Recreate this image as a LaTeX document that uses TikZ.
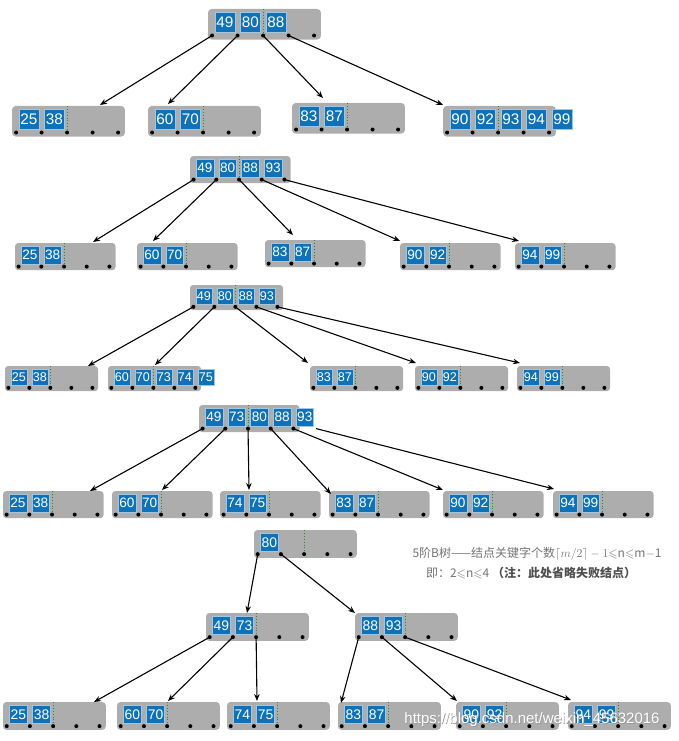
\documentclass[tikz,border=0pt]{standalone}
\usepackage{amssymb}
\usepackage{fontspec}
\setmainfont{Liberation Sans}
\newfontfamily\cjk{Noto Sans CJK SC}
\usetikzlibrary{arrows.meta}
\definecolor{keyblue}{RGB}{14,114,186}
\definecolor{boxgray}{RGB}{173,173,173}
\definecolor{splitgreen}{RGB}{40,140,40}
\definecolor{notegray}{RGB}{115,115,115}
\definecolor{notedark}{RGB}{80,80,80}
\tikzset{
    keybox/.style={fill=keyblue, draw=white!60!keyblue, line width=0.3pt, text=white, inner sep=0pt},
    ptr/.style={-{Stealth[length=7pt,width=5.5pt]}, line width=1.1pt},
}
\newcommand{\btnode}[5]{%
    \begin{scope}[shift={(#2,#3)}, x=#4pt, y=-#4pt]
        \pgfmathsetmacro\kb{0.78*#4}
        \pgfmathsetmacro\fs{0.6*#4}
        \pgfmathsetmacro\rc{0.15*#4}
        \fill[boxgray, rounded corners=\rc pt] (0,0) rectangle (4.43,1.2);
        \draw[splitgreen, dotted, line width=0.9pt] (2.16,0) -- (2.16,1.04);
        \foreach \k [count=\i from 0] in {#5}
            \node[keybox, minimum size=\kb pt, font=\fontsize{\fs}{\fs}\selectfont] (#1-k\i) at (0.66+\i,0.53) {\k};
        \foreach \i in {0,...,4} {
            \coordinate (#1-p\i) at (0.16+\i,1.04);
            \fill (#1-p\i) circle (2pt);
        }
        \coordinate (#1-p5) at (5.16,1.04);
    \end{scope}}
\begin{document}
\begin{tikzpicture}[x=1pt, y=-1pt]
    \useasboundingbox (0,0) rectangle (678,741);

    \btnode{a}{208}{9}{25.5}{49,80,88}
    \btnode{a1}{12}{106}{25.5}{25,38}
    \btnode{a2}{148}{106}{25.5}{60,70}
    \btnode{a3}{292}{103}{25.5}{83,87}
    \btnode{a4}{443}{106}{25.5}{90,92,93,94,99}
    \coordinate (ta1) at (100,105);
    \coordinate (ta2) at (168,104);
    \coordinate (ta3) at (323,98);
    \coordinate (ta4) at (443,105);
    \draw[ptr] (a-p0) -- (ta1);
    \draw[ptr] (a-p1) -- (ta2);
    \draw[ptr] (a-p2) -- (ta3);
    \draw[ptr] (a-p3) -- (ta4);

    \btnode{b}{190}{156}{22.7}{49,80,88,93}
    \btnode{b1}{15}{243}{22.7}{25,38}
    \btnode{b2}{137}{243}{22.7}{60,70}
    \btnode{b3}{265}{240}{22.7}{83,87}
    \btnode{b4}{400}{243}{22.7}{90,92}
    \btnode{b5}{515}{243}{22.7}{94,99}
    \coordinate (tb1) at (93,242);
    \coordinate (tb2) at (153,241);
    \coordinate (tb3) at (293,235);
    \coordinate (tb4) at (400,241);
    \coordinate (tb5) at (519,241);
    \draw[ptr] (b-p0) -- (tb1);
    \draw[ptr] (b-p1) -- (tb2);
    \draw[ptr] (b-p2) -- (tb3);
    \draw[ptr] (b-p3) -- (tb4);
    \draw[ptr] (b-p4) -- (tb5);

    \btnode{c}{190}{285}{21}{49,80,88,93}
    \btnode{c1}{5}{366}{21}{25,38}
    \btnode{c2}{108}{366}{21}{60,70,73,74,75}
    \btnode{c3}{310}{366}{21}{83,87}
    \btnode{c4}{415}{366}{21}{90,92}
    \btnode{c5}{517}{366}{21}{94,99}
    \coordinate (tc1) at (88,366);
    \coordinate (tc2) at (155,365);
    \coordinate (tc3) at (308,363);
    \coordinate (tc4) at (416,363);
    \coordinate (tc5) at (520,363);
    \draw[ptr] (c-p0) -- (tc1);
    \draw[ptr] (c-p1) -- (tc2);
    \draw[ptr] (c-p2) -- (tc3);
    \draw[ptr] (c-p3) -- (tc4);
    \draw[ptr] (c-p4) -- (tc5);

    \btnode{d}{199}{405}{22.7}{49,73,80,88,93}
    \btnode{d1}{3}{491}{22.7}{25,38}
    \btnode{d2}{112}{491}{22.7}{60,70}
    \btnode{d3}{220}{491}{22.7}{74,75}
    \btnode{d4}{329}{491}{22.7}{83,87}
    \btnode{d5}{443}{491}{22.7}{90,92}
    \btnode{d6}{553}{491}{22.7}{94,99}
    \coordinate (td1) at (90,491);
    \coordinate (td2) at (162,490);
    \coordinate (td3) at (249,490);
    \coordinate (td4) at (331,494);
    \coordinate (td5) at (443,490);
    \coordinate (td6) at (554,489);
    \draw[ptr] (d-p0) -- (td1);
    \draw[ptr] (d-p1) -- (td2);
    \draw[ptr] (d-p2) -- (td3);
    \draw[ptr] (d-p3) -- (td4);
    \draw[ptr] (d-p4) -- (td5);
    \draw[ptr] (d-p5) -- (td6);

    \btnode{e}{254}{530}{23.2}{80}
    \btnode{e1}{206}{613}{23.2}{49,73}
    \btnode{e2}{355}{613}{23.2}{88,93}
    \btnode{e11}{3}{702}{23.2}{25,38}
    \btnode{e12}{117}{702}{23.2}{60,70}
    \btnode{e13}{227}{702}{23.2}{74,75}
    \btnode{e21}{338}{702}{23.2}{83,87}
    \btnode{e22}{456}{702}{23.2}{90,92}
    \btnode{e23}{568}{702}{23.2}{94,99}
    \coordinate (te1) at (247,613);
    \coordinate (te2) at (355,613);
    \coordinate (te11) at (94,702);
    \coordinate (te12) at (168,701);
    \coordinate (te13) at (257,701);
    \coordinate (te21) at (341,703);
    \coordinate (te22) at (457,701);
    \coordinate (te23) at (571,700);
    \draw[ptr] (e-p0) -- (te1);
    \draw[ptr] (e-p1) -- (te2);
    \draw[ptr] (e1-p0) -- (te11);
    \draw[ptr] (e1-p1) -- (te12);
    \draw[ptr] (e1-p2) -- (te13);
    \draw[ptr] (e2-p0) -- (te21);
    \draw[ptr] (e2-p1) -- (te22);
    \draw[ptr] (e2-p2) -- (te23);

    \node[font=\cjk\fontsize{12}{14}\selectfont, text=notegray] (note1) at (537,554)
        {5阶B树——结点关键字个数$\lceil m/2\rceil - 1$$\leqslant$n$\leqslant$m$-$1};
    \node[font=\cjk\fontsize{12}{14}\selectfont, text=notegray] (note2) at (531,573)
        {即：2$\leqslant$n$\leqslant$4 {\color{notedark}\bfseries（注：此处省略失败结点）}};

    \node[font=\fontsize{15}{15}\selectfont, text=gray!80] (wmshadow) at (532.7,720.7) {https://blog.csdn.net/weixin\_45632016};
    \node[font=\fontsize{15}{15}\selectfont, text=white] (wm) at (532,720) {https://blog.csdn.net/weixin\_45632016};
\end{tikzpicture}
\end{document}
